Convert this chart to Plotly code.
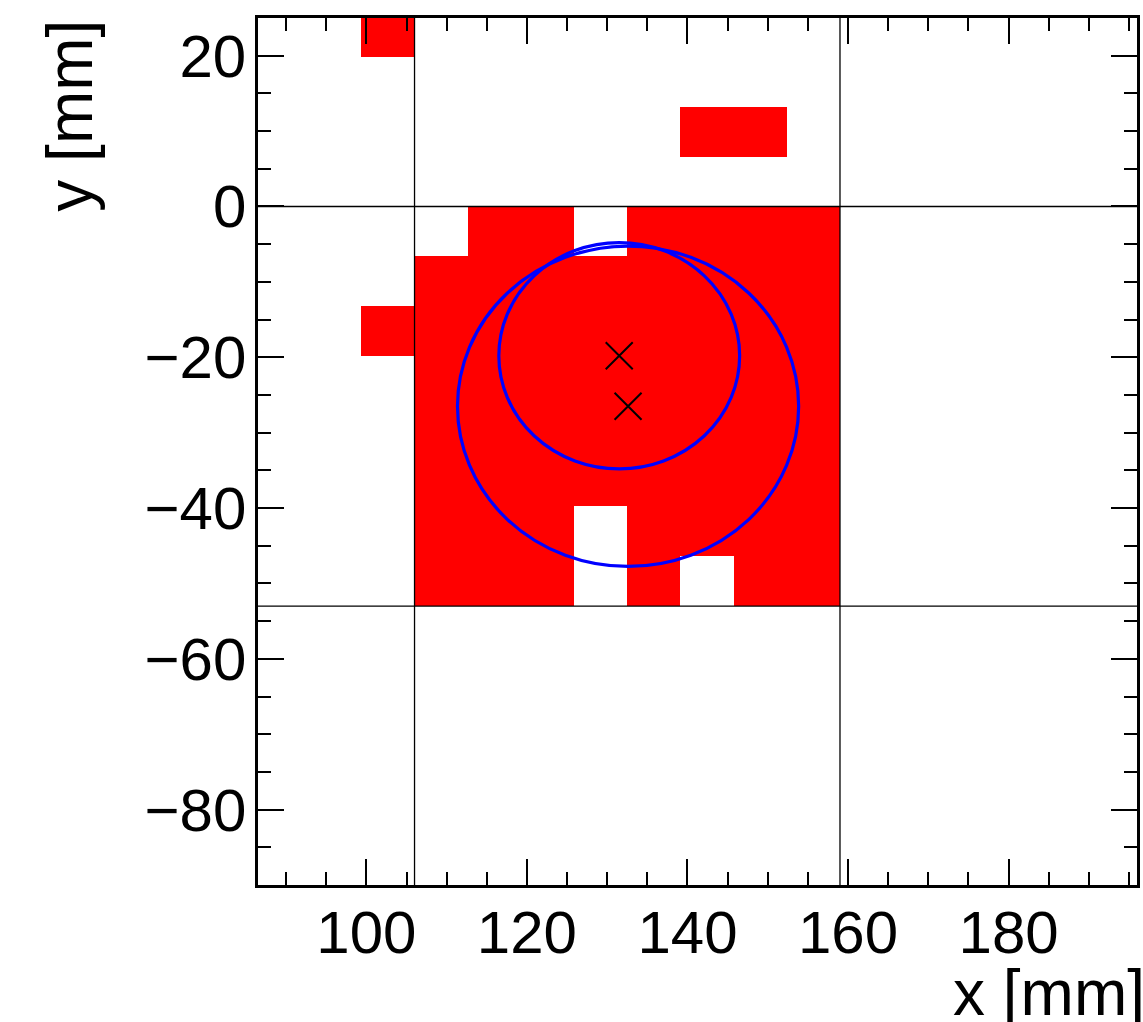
import plotly.graph_objects as go

# Pixel geometry of the photodetector plane (mm)
PITCH = 6.625
MODULE_X0 = 106.0          # left edge of the central module
MODULE_Y0 = 0.0            # top edge of the central module
MODULE_EDGES_X = [106.0, 159.0]
MODULE_EDGES_Y = [0.0, -53.0]

# Fired pixels: row index (counted downwards from MODULE_Y0) and the columns hit in that row
pixel_rows = [-4, -2, 0, 1, 2, 3, 4, 5, 6, 7]
pixel_cols = [
    [-1],
    [5, 6],
    [1, 2, 4, 5, 6, 7],
    [0, 1, 2, 3, 4, 5, 6, 7],
    [-1, 0, 1, 2, 3, 4, 5, 6, 7],
    [0, 1, 2, 3, 4, 5, 6, 7],
    [0, 1, 2, 3, 4, 5, 6, 7],
    [0, 1, 2, 3, 4, 5, 6, 7],
    [0, 1, 2, 4, 5, 6, 7],
    [0, 1, 2, 4, 6, 7],
]

# Reconstructed rings: centres and radii (mm)
ring_cx = [131.5, 132.6]
ring_cy = [-19.8, -26.5]
ring_r = [15.0, 21.25]

# Axis setup
x_range = [86.5, 196.0]
y_range = [-90.0, 25.0]
x_ticks = [100, 120, 140, 160, 180]
y_ticks = [-80, -60, -40, -20, 0, 20]
x_title = "x [mm]"
y_title = "y [mm]"

# Expand the pixel table into bar geometry
cell_x, cell_base = [], []
for row, cols in zip(pixel_rows, pixel_cols):
    for col in cols:
        cell_x.append(MODULE_X0 + (col + 0.5) * PITCH)
        cell_base.append(MODULE_Y0 - (row + 1) * PITCH)

fig = go.Figure()
fig.add_trace(go.Bar(
    x=cell_x, y=[PITCH] * len(cell_x), base=cell_base,
    width=[PITCH] * len(cell_x),
    marker=dict(color="#ff0000", line=dict(width=0)),
    hoverinfo="skip", showlegend=False,
))
fig.add_trace(go.Scatter(
    x=ring_cx, y=ring_cy, mode="markers",
    marker=dict(symbol="x-thin", size=27, line=dict(color="black", width=2)),
    hoverinfo="skip", showlegend=False,
))

shapes = []
for xe in MODULE_EDGES_X:
    shapes.append(dict(type="line", xref="x", yref="paper", x0=xe, x1=xe, y0=0, y1=1,
                       line=dict(color="black", width=1.3), layer="above"))
for ye in MODULE_EDGES_Y:
    shapes.append(dict(type="line", xref="paper", yref="y", x0=0, x1=1, y0=ye, y1=ye,
                       line=dict(color="black", width=1.3), layer="above"))
for cx, cy, r in zip(ring_cx, ring_cy, ring_r):
    shapes.append(dict(type="circle", xref="x", yref="y",
                       x0=cx - r, x1=cx + r, y0=cy - r, y1=cy + r,
                       line=dict(color="#0000ff", width=3.2), layer="above"))

sans = "Liberation Sans, Arial, sans-serif"
title_font = dict(family=sans, size=64, color="black")
tick_font = dict(family=sans, size=60, color="black")
axis_common = dict(
    showline=True, linecolor="black", linewidth=2.5, mirror="allticks",
    ticks="inside", ticklen=26, tickwidth=2, tickcolor="black",
    showgrid=False, zeroline=False, tickfont=tick_font,
    minor=dict(ticks="inside", ticklen=13, tickwidth=1.5, tickcolor="black", showgrid=False),
)

fig.update_layout(
    width=1143, height=1022,
    margin=dict(l=258, r=3, t=18, b=137),
    paper_bgcolor="white", plot_bgcolor="white",
    barmode="overlay", bargap=0,
    shapes=shapes,
    xaxis=dict(range=x_range, tickvals=x_ticks, ticklabelstandoff=-7, **axis_common),
    yaxis=dict(range=y_range, tickvals=y_ticks, ticklabelstandoff=-3, **axis_common),
    annotations=[
        dict(text=x_title, xref="paper", yref="paper", x=1.0, y=-0.158,
             xanchor="right", yanchor="bottom", xshift=10, yshift=-9, showarrow=False,
             font=title_font),
        dict(text=y_title, xref="paper", yref="paper", x=-0.204, y=1.0,
             xanchor="center", yanchor="top", textangle=-90, xshift=-9, showarrow=False,
             font=title_font),
    ],
)
fig.update_xaxes(minor_dtick=5, minor_tick0=0)
fig.update_yaxes(minor_dtick=5, minor_tick0=0)

fig.write_html("out.html")
